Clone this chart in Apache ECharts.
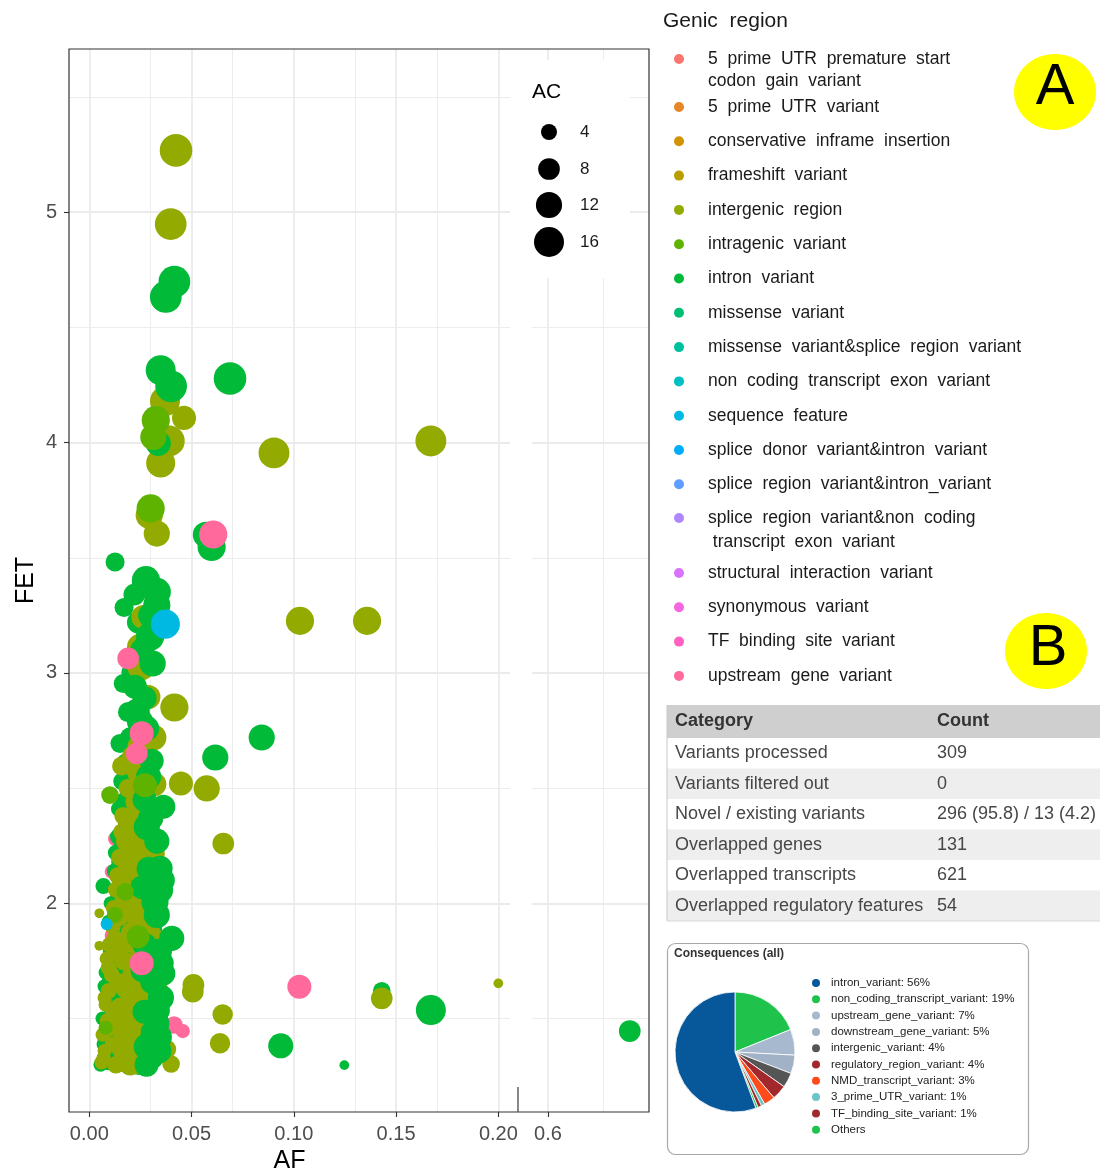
<!DOCTYPE html>
<html><head><meta charset="utf-8">
<script src="https://cdn.jsdelivr.net/npm/echarts@6/dist/echarts.min.js"></script>
<style>html,body{margin:0;padding:0;background:#fff}#c{width:1100px;height:1173px}</style>
</head><body><div id="c"></div>
<script>
// ---------------- DATA ----------------
const categories = [
  "5  prime  UTR  premature  start  codon  gain  variant",
  "5  prime  UTR  variant",
  "conservative  inframe  insertion",
  "frameshift  variant",
  "intergenic  region",
  "intragenic  variant",
  "intron  variant",
  "missense  variant",
  "missense  variant&splice  region  variant",
  "non  coding  transcript  exon  variant",
  "sequence  feature",
  "splice  donor  variant&intron  variant",
  "splice  region  variant&intron_variant",
  "splice  region  variant&non  coding  transcript  exon  variant",
  "structural  interaction  variant",
  "synonymous  variant",
  "TF  binding  site  variant",
  "upstream  gene  variant"
];
// [AF, FET, AC]
const intergenicRegion = [
  [0.0424,5.268,19],[0.0398,4.948,18],[0.0370,4.180,16],[0.0463,4.107,10],[0.0391,4.007,17],[0.0349,3.911,15],
  [0.0903,3.955,17],[0.1670,4.007,17],[0.0293,3.685,13],[0.0330,3.605,12],[0.0264,3.243,10],[0.1030,3.226,14],
  [0.1358,3.226,14],[0.0248,3.113,12],[0.0253,3.026,13],[0.0289,2.896,10],[0.0416,2.850,14],[0.0313,2.720,12],
  [0.0248,2.680,11],[0.0158,2.596,6],[0.0448,2.520,10],[0.0574,2.499,12],[0.0318,2.517,10],[0.0655,2.260,8],
  [0.0049,1.957,1],[0.0049,1.816,1],[0.0509,1.646,8],[0.0506,1.617,8],[0.1430,1.588,8],[0.2000,1.653,1],
  [0.0652,1.518,7],[0.0639,1.393,7],[0.0378,1.367,6],[0.0400,1.303,5],
  [0.006,1.31,3],[0.013,1.30,5],[0.020,1.30,8],[0.028,1.32,9],[0.0075,1.36,3],[0.015,1.37,5],[0.027,1.35,8],
  [0.0065,1.43,3],[0.017,1.42,6],[0.025,1.44,9],[0.009,1.49,4],[0.019,1.48,7],[0.030,1.50,10],[0.008,1.56,3],
  [0.015,1.55,6],[0.027,1.57,10],[0.0095,1.62,4],[0.018,1.63,7],[0.033,1.617,10],[0.024,1.60,9],[0.011,1.69,4],
  [0.021,1.68,8],[0.029,1.70,10],[0.0085,1.76,3],[0.017,1.75,6],[0.030,1.77,10],[0.010,1.82,4],[0.019,1.83,7],
  [0.0313,1.826,12],[0.0115,1.90,4],[0.0265,1.91,8],[0.0264,1.942,10],[0.012,1.98,4],[0.020,1.99,7],[0.028,1.97,9],
  [0.013,2.06,4],[0.023,2.05,8],[0.030,2.04,11],[0.014,2.12,5],[0.025,2.13,9],[0.015,2.20,5],[0.0305,2.217,12],
  [0.0248,2.246,11],[0.021,2.19,7],[0.016,2.31,5],[0.024,2.30,8],[0.0165,2.38,5],[0.026,2.39,9],
  [0.007,1.33,3],[0.017,1.33,7],[0.025,1.31,10],[0.0115,1.39,4],[0.022,1.39,9],[0.029,1.41,11],[0.0085,1.45,3],
  [0.014,1.46,6],[0.027,1.47,11],[0.012,1.52,5],[0.022,1.53,9],[0.0075,1.59,3],[0.021,1.59,9],[0.030,1.61,11],
  [0.014,1.66,5],[0.025,1.66,10],[0.0095,1.72,4],[0.023,1.72,10],[0.014,1.78,5],[0.026,1.79,11],[0.0125,1.85,4],
  [0.021,1.87,9],[0.029,1.86,12],[0.015,1.94,5],[0.023,1.95,9],[0.017,2.02,6],[0.027,2.02,10],[0.016,2.09,6],
  [0.027,2.10,11],[0.019,2.16,7],[0.028,2.18,11],[0.018,2.27,7],[0.027,2.26,10],[0.019,2.35,7],[0.023,2.44,8],
  [0.019,2.50,6],[0.024,2.57,9],[0.021,2.64,7]
];
const intronVariant = [
  [0.0416,4.698,18],[0.0374,4.632,18],[0.0349,4.314,16],[0.0688,4.278,19],[0.0400,4.244,18],[0.0337,3.996,11],
  [0.0598,3.547,14],[0.0570,3.600,12],[0.0126,3.482,6],[0.0277,3.403,14],[0.0330,3.352,14],[0.0272,3.395,12],
  [0.0170,3.284,6],[0.0330,3.294,13],[0.0297,3.157,14],[0.0310,3.041,12],[0.0166,2.954,6],[0.0223,2.940,10],
  [0.0232,2.831,12],[0.0248,2.788,12],[0.0843,2.720,12],[0.0150,2.694,6],[0.0305,2.619,10],[0.0616,2.633,12],
  [0.0362,2.419,10],[0.0281,2.332,12],[0.0346,2.152,11],[0.0354,2.100,12],[0.0346,2.058,12],[0.0321,2.007,13],
  [0.0069,2.075,4],[0.0403,1.848,11],[0.0354,1.740,10],[0.0362,1.696,10],[0.0330,1.537,12],[0.0330,1.479,11],
  [0.0281,1.378,12],[0.1430,1.621,5],[0.1670,1.537,16],[0.0936,1.382,11],[0.1247,1.298,1],[0.6745,1.446,8],
  [0.009,1.31,4],[0.016,1.31,6],[0.024,1.30,7],[0.031,1.33,8],[0.011,1.36,4],[0.019,1.35,7],[0.010,1.41,4],
  [0.021,1.43,8],[0.031,1.44,10],[0.0065,1.50,3],[0.014,1.49,5],[0.024,1.51,8],[0.011,1.54,4],[0.021,1.56,8],
  [0.0075,1.64,3],[0.013,1.61,5],[0.0256,1.631,8],[0.008,1.70,3],[0.016,1.67,6],[0.012,1.74,4],[0.022,1.76,8],
  [0.0135,1.81,5],[0.024,1.84,8],[0.0095,1.92,3],[0.017,1.89,6],[0.021,1.93,7],[0.030,1.89,9],[0.0105,2.00,3],
  [0.016,1.97,6],[0.024,2.01,8],[0.017,2.06,6],[0.0125,2.14,4],[0.020,2.11,7],[0.029,2.15,10],[0.013,2.22,4],
  [0.018,2.24,6],[0.014,2.29,4],[0.020,2.33,7],[0.0145,2.41,4],[0.021,2.40,7],[0.030,2.37,11],
  [0.0055,1.30,3],[0.012,1.32,5],[0.021,1.33,8],[0.028,1.30,10],[0.034,1.36,11],[0.015,1.40,6],[0.025,1.38,9],
  [0.007,1.39,3],[0.018,1.45,7],[0.034,1.42,12],[0.010,1.47,4],[0.027,1.53,10],[0.016,1.58,6],[0.035,1.59,12],
  [0.010,1.59,4],[0.019,1.65,7],[0.031,1.66,11],[0.010,1.66,4],[0.026,1.71,10],[0.016,1.72,6],[0.019,1.79,7],
  [0.034,1.79,12],[0.0105,1.79,4],[0.016,1.85,6],[0.027,1.82,10],[0.0135,1.95,5],[0.025,1.94,9],[0.033,1.95,12],
  [0.0145,2.04,5],[0.026,2.07,10],[0.015,2.18,5],[0.023,2.21,9],[0.033,2.27,11],[0.0165,2.27,6],[0.025,2.35,9],
  [0.017,2.44,6],[0.027,2.45,10],[0.016,2.53,5],[0.022,2.56,8],[0.029,2.55,11],[0.018,2.61,6],[0.025,2.65,9],
  [0.020,2.72,7],[0.028,2.76,11],[0.019,2.83,7],[0.027,2.89,10],[0.021,3.00,8],[0.026,3.10,10],[0.024,3.22,9],
  [0.030,3.25,11],[0.022,3.34,8]
];
const intragenicVariant = [
  [0.0325,4.097,14],[0.0313,4.024,12],[0.0300,3.714,14],[0.0272,2.513,10],[0.0101,2.470,5],[0.0238,1.855,9],
  [0.008,1.46,3],[0.0125,1.95,4],[0.0175,2.05,5]
];
const sequenceFeature = [[0.0372,3.212,15],[0.0085,1.91,2]];
const upstreamGeneVariant = [
  [0.0606,3.601,14],[0.019,3.063,8],[0.0256,2.738,10],[0.0232,2.651,8],[0.0183,2.448,6],[0.0256,1.74,10],
  [0.1027,1.638,10],[0.0414,1.472,5],[0.0457,1.446,3],[0.013,1.38,3],[0.017,1.52,4],[0.020,1.60,5],
  [0.013,1.72,4],[0.011,1.86,3],[0.014,2.02,4],[0.011,2.137,3],[0.0185,2.16,4],[0.016,2.26,4],[0.018,2.36,5],
  [0.0126,2.28,3],[0.0117,1.537,3],[0.0207,1.45,4]
];
const acBreaks = [4, 8, 12, 16];
const xTicksLeft = [0, 0.05, 0.10, 0.15, 0.20];
const xMinorLeft = [0.025, 0.075, 0.125, 0.175];
const xTicksRight = [0.6];
const xMinorRight = [0.65];
const yTicks = [2, 3, 4, 5];
const yMinor = [1.5, 2.5, 3.5, 4.5, 5.5];

const tableHeader = ["Category", "Count"];
const tableCategories = ["Variants processed","Variants filtered out","Novel / existing variants","Overlapped genes","Overlapped transcripts","Overlapped regulatory features"];
const tableCounts = ["309","0","296 (95.8) / 13 (4.2)","131","621","54"];

const pieNames = ["intron_variant","non_coding_transcript_variant","upstream_gene_variant","downstream_gene_variant","intergenic_variant","regulatory_region_variant","NMD_transcript_variant","3_prime_UTR_variant","TF_binding_site_variant","Others"];
const pieValues = [56, 19, 7, 5, 4, 4, 3, 1, 1, 0.6];
const pieColors = ["#07589A","#1FC34B","#A6B9CF","#A1B2C6","#555555","#A3282C","#FF4A1C","#6CC5C8","#9E2A2F","#1FC34B"];

// ---------------- STYLE HELPERS ----------------
const FONT = "'Liberation Sans', Arial, sans-serif";
function hcl(h, c, l) {
  const hr = h * Math.PI / 180, U = c * Math.cos(hr), V = c * Math.sin(hr);
  const Xn = 95.047, Yn = 100, Zn = 108.883;
  const Y = Yn * Math.pow((l + 16) / 116, 3);
  const t = Xn + 15 * Yn + 3 * Zn, un = 4 * Xn / t, vn = 9 * Yn / t;
  const u = U / (13 * l) + un, v = V / (13 * l) + vn;
  const X = 9 * Y * u / (4 * v);
  const Z = (9 * Y / v - X - 15 * Y) / 3;
  const x = X / 100, y = Y / 100, z = Z / 100;
  const lin = [3.240479*x - 1.537150*y - 0.498535*z, -0.969256*x + 1.875992*y + 0.041556*z, 0.055648*x - 0.204043*y + 1.057311*z];
  return '#' + lin.map(a => { a = Math.max(0, Math.min(1, a)); a = a <= 0.0031308 ? 12.92*a : 1.055*Math.pow(a, 1/2.4) - 0.055; return Math.round(Math.max(0,Math.min(1,a))*255).toString(16).padStart(2,'0'); }).join('');
}
const palette = categories.map((_, i) => hcl(15 + 20 * i, 100, 65));
function sizeOf(ac) { return Math.sqrt(41 + 53.7 * ac); }
const wrapMap = {};
wrapMap[categories[0]] = " \n5  prime  UTR  premature  start\ncodon  gain  variant";
wrapMap[categories[13]] = " \nsplice  region  variant&non  coding\n transcript  exon  variant";

const GRID = '#EBEBEB';
function gridLines(xs, xm, ys, ym) {
  const d = [];
  xm.forEach(v => d.push({xAxis: v, lineStyle: {width: 0.9}}));
  ym.forEach(v => d.push({yAxis: v, lineStyle: {width: 0.9}}));
  xs.forEach(v => d.push({xAxis: v, lineStyle: {width: 1.8}}));
  ys.forEach(v => d.push({yAxis: v, lineStyle: {width: 1.8}}));
  return {silent: true, symbol: 'none', label: {show: false}, animation: false, z: 1,
          emphasis: {disabled: true}, lineStyle: {color: GRID, type: 'solid'}, data: d};
}
function scat(i, data, xi, extra) {
  return Object.assign({
    type: 'scatter', name: categories[i], xAxisIndex: xi, yAxisIndex: xi, data: data,
    symbol: 'circle', symbolSize: d => sizeOf(d[2]),
    itemStyle: {color: palette[i], opacity: 1}, emphasis: {disabled: true}, silent: true, z: 2
  }, extra || {});
}
const left = d => d[0] < 0.3, right = d => d[0] >= 0.3;
const series = [];
[0,1,2,3,7,8,9,11,12,13,14,15,16].forEach(i => series.push(scat(i, [], 0)));
// drawing layers: small points sit underneath, large ones on top
series.push(scat(17, upstreamGeneVariant.filter(d => d[2] < 8), 0));
series.push(scat(6, intronVariant.filter(d => left(d) && d[2] < 10), 0));
series.push(scat(4, intergenicRegion.filter(left), 0, {markLine: gridLines(xTicksLeft, xMinorLeft, yTicks, yMinor)}));
series.push(scat(6, intronVariant.filter(d => left(d) && d[2] >= 10), 0));
series.push(scat(5, intragenicVariant, 0));
series.push(scat(10, sequenceFeature, 0));
series.push(scat(17, upstreamGeneVariant.filter(d => d[2] >= 8), 0));
series.push(scat(6, intronVariant.filter(right), 1, {markLine: gridLines(xTicksRight, xMinorRight, yTicks, yMinor)}));

const pieOrder = [1,2,3,4,5,6,7,8,9,0];
series.push({
  type: 'pie', center: [735, 1052], radius: 60, startAngle: 90, clockwise: true, silent: true,
  label: {show: false}, labelLine: {show: false}, emphasis: {disabled: true},
  itemStyle: {borderColor: '#fff', borderWidth: 0.8},
  data: pieOrder.map(k => ({name: pieNames[k], value: pieValues[k], itemStyle: {color: pieColors[k]}}))
});

const legBase = {orient: 'vertical', left: 674, padding: 0, itemWidth: 10, itemHeight: 10, icon: 'circle',
  itemGap: 14.3, selectedMode: false, formatter: n => wrapMap[n] || n,
  textStyle: {fontSize: 17.5, color: '#1a1a1a', lineHeight: 20, padding: [0,0,0,19], fontFamily: FONT}};
const legends = [
  Object.assign({}, legBase, {top: 26, data: [{name: categories[0], textStyle: {lineHeight: 22}}]}),
  Object.assign({}, legBase, {top: 97, data: categories.slice(1, 13)}),
  Object.assign({}, legBase, {top: 482, data: [{name: categories[13], textStyle: {lineHeight: 24}}]}),
  Object.assign({}, legBase, {top: 563, data: categories.slice(14)}),
  {orient: 'vertical', left: 810, top: 977, padding: 0, itemWidth: 10, itemHeight: 10, icon: 'circle', itemGap: 4.3,
   selectedMode: false, data: pieNames,
   formatter: n => { const k = pieNames.indexOf(n); return n === 'Others' ? n : n + ': ' + pieValues[k] + '%'; },
   textStyle: {fontSize: 11.5, color: '#222', lineHeight: 12, padding: [0,0,0,5], fontFamily: FONT}}
];

const txt = (text, x, y, o) => Object.assign({type: 'text', x: x, y: y, silent: true,
  style: Object.assign({text: text, fontFamily: FONT, fontSize: 17, fill: '#1a1a1a', align: 'left', verticalAlign: 'middle'}, (o && o.style) || {})},
  o && o.z != null ? {z: o.z} : {});
const graphics = [];
graphics.push(txt('Genic  region', 663, 21, {style: {fontSize: 21}}));
graphics.push({type: 'ellipse', shape: {cx: 1055, cy: 92, rx: 41, ry: 38}, style: {fill: '#FFFF00'}, silent: true});
graphics.push(txt('A', 1055, 88, {style: {fontSize: 58, fill: '#000', align: 'center'}}));
graphics.push({type: 'ellipse', shape: {cx: 1046, cy: 651, rx: 41, ry: 38}, style: {fill: '#FFFF00'}, silent: true});
graphics.push(txt('B', 1048, 649, {style: {fontSize: 58, fill: '#000', align: 'center'}}));
graphics.push({type: 'rect', shape: {x: 520, y: 60, width: 110, height: 218}, style: {fill: '#fff'}, z: 10, silent: true});
graphics.push(txt('AC', 532, 92, {style: {fontSize: 21, fill: '#000'}, z: 11}));
const acY = [132, 169, 205, 242];
acBreaks.forEach((ac, k) => {
  graphics.push({type: 'circle', shape: {cx: 549, cy: acY[k], r: sizeOf(ac) / 2}, style: {fill: '#000'}, z: 11, silent: true});
  graphics.push(txt(String(ac), 580, acY[k], {style: {fontSize: 17}, z: 11}));
});
graphics.push({type: 'rect', shape: {x: 69, y: 49, width: 580, height: 1063}, style: {fill: null, stroke: '#333', lineWidth: 1.2}, z: 20, silent: true});
graphics.push({type: 'line', shape: {x1: 518, y1: 1087, x2: 518, y2: 1112}, style: {stroke: '#555', lineWidth: 1.4}, z: 20, silent: true});
const tX = 667, tW = 440, hH = 33, rH = 30.5, tY = 705;
graphics.push({type: 'rect', shape: {x: tX, y: tY, width: tW, height: hH}, style: {fill: '#CFCFCF'}, silent: true});
graphics.push(txt(tableHeader[0], 675, tY + hH / 2, {style: {fontSize: 18, fontWeight: 'bold', fill: '#333'}}));
graphics.push(txt(tableHeader[1], 937, tY + hH / 2, {style: {fontSize: 18, fontWeight: 'bold', fill: '#333'}}));
tableCategories.forEach((c, k) => {
  const y = tY + hH + k * rH;
  graphics.push({type: 'rect', shape: {x: tX, y: y, width: tW, height: rH}, style: {fill: k % 2 ? '#EEEEEE' : '#FFFFFF'}, silent: true});
  graphics.push(txt(c, 675, y + rH / 2, {style: {fontSize: 18, fill: '#474747'}}));
  graphics.push(txt(tableCounts[k], 937, y + rH / 2, {style: {fontSize: 18, fill: '#474747'}}));
});
graphics.push({type: 'line', shape: {x1: tX, y1: tY, x2: tX, y2: tY + hH + 6 * rH}, style: {stroke: '#C8C8C8', lineWidth: 1}, silent: true});
graphics.push({type: 'line', shape: {x1: tX, y1: tY + hH + 6 * rH, x2: 1100, y2: tY + hH + 6 * rH}, style: {stroke: '#D8D8D8', lineWidth: 1}, silent: true});
graphics.push({type: 'rect', shape: {x: 667.5, y: 943.5, width: 361, height: 211, r: 8}, style: {fill: '#fff', stroke: '#A8A8A8', lineWidth: 1.2}, z: -1, silent: true});
graphics.push(txt('Consequences (all)', 674, 954, {style: {fontSize: 12, fontWeight: 'bold', fill: '#333'}}));

const option = {
  animation: false,
  textStyle: {fontFamily: FONT},
  grid: [
    {left: 69, top: 49, width: 441, height: 1063, containLabel: false, outerBoundsMode: 'none'},
    {left: 532, top: 49, width: 117, height: 1063, containLabel: false, outerBoundsMode: 'none'}
  ],
  xAxis: [
    {type: 'value', gridIndex: 0, min: -0.00993, max: 0.2057, name: 'AF', nameLocation: 'middle', nameGap: 35,
     nameTextStyle: {fontSize: 25, color: '#000', fontFamily: FONT},
     axisLine: {show: false, onZero: false}, splitLine: {show: false},
     axisTick: {show: true, length: 5, customValues: xTicksLeft, lineStyle: {color: '#333', width: 1.1}},
     axisLabel: {customValues: xTicksLeft, formatter: v => v.toFixed(2), fontSize: 20, color: '#4D4D4D', margin: 12, fontFamily: FONT}},
    {type: 'value', gridIndex: 1, min: 0.5855, max: 0.692,
     axisLine: {show: false, onZero: false}, splitLine: {show: false},
     axisTick: {show: true, length: 5, customValues: xTicksRight, lineStyle: {color: '#333', width: 1.1}},
     axisLabel: {customValues: xTicksRight, formatter: v => v.toFixed(1), fontSize: 20, color: '#4D4D4D', margin: 12, fontFamily: FONT}}
  ],
  yAxis: [
    {type: 'value', gridIndex: 0, min: 1.0946, max: 5.708, name: 'FET', nameLocation: 'middle', nameGap: 30,
     nameTextStyle: {fontSize: 25, color: '#000', fontFamily: FONT},
     axisLine: {show: false, onZero: false}, splitLine: {show: false},
     axisTick: {show: true, length: 5, customValues: yTicks, lineStyle: {color: '#333', width: 1.1}},
     axisLabel: {customValues: yTicks, formatter: v => String(v), fontSize: 20, color: '#4D4D4D', margin: 12, fontFamily: FONT}},
    {type: 'value', gridIndex: 1, min: 1.0946, max: 5.708, show: false, splitLine: {show: false}}
  ],
  legend: legends,
  graphic: {elements: graphics},
  series: series
};
const chart = echarts.init(document.getElementById('c'), null, {renderer: 'canvas'});
chart.setOption(option);
</script></body></html>
